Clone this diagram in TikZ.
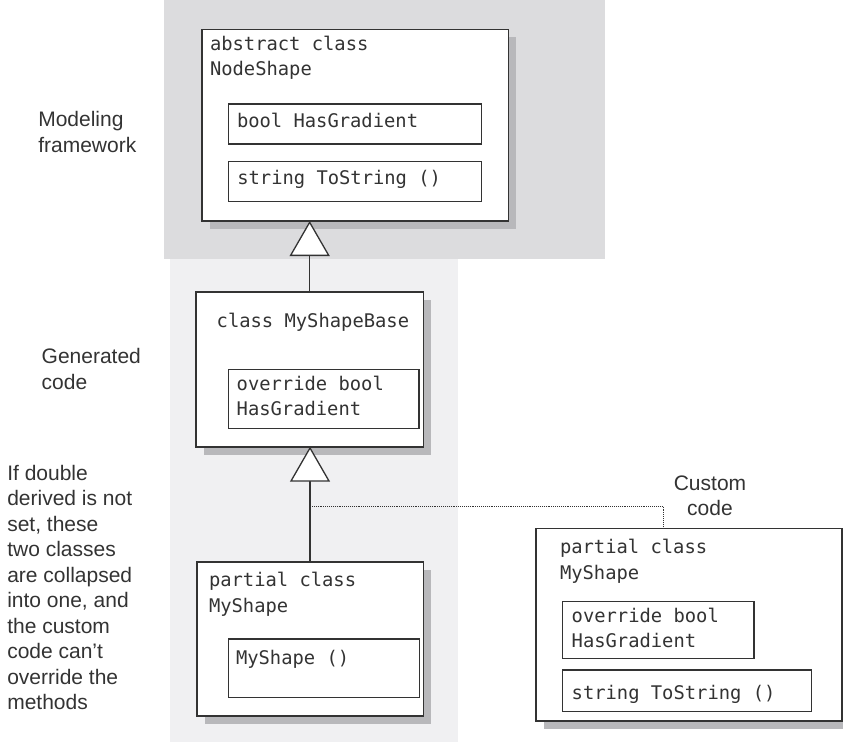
\documentclass[tikz,border=0pt]{standalone}
\usepackage{fontspec}
\setmainfont{Liberation Sans}
\setmonofont{DejaVu Sans Mono}
\usepackage{tikz}
\usetikzlibrary{arrows.meta,positioning,shadows,calc}
\definecolor{framegray}{HTML}{DCDCDE}
\definecolor{gengray}{HTML}{F0F0F2}
\definecolor{shadegray}{HTML}{B8B8BB}
\definecolor{inkgray}{HTML}{333333}
\tikzset{
    classbox/.style={draw=inkgray, line width=1.6pt, fill=white, anchor=north west,
    inner sep=0pt, outer sep=0pt,
    drop shadow={shadow xshift=8pt, shadow yshift=-8pt, fill=shadegray, opacity=1}},
    memberbox/.style={draw=inkgray, line width=1.3pt, fill=white, inner sep=0pt, outer sep=0pt},
    codetext/.style={font=\fontsize{18.8}{25.5}\selectfont\ttfamily, text=inkgray,
    align=left, inner sep=0pt, outer sep=0pt},
    layerlabel/.style={font=\fontsize{21}{25.5}\selectfont, text=inkgray, align=left,
    inner sep=0pt, outer sep=0pt, anchor=north west},
    inherits/.style={draw=inkgray, line width=1.3pt, -{Triangle[fill=white, length=35pt, width=40pt]}},
    partof/.style={draw=inkgray, line width=0.9pt, densely dotted},
}

\begin{document}
\begin{tikzpicture}[x=1pt, y=-1pt]
            \useasboundingbox (0,0) rectangle (843,742);
            % --- layer panels ---
            \fill[framegray] (164,0) rectangle (605,259);
            \fill[gengray] (170,259) rectangle (458,742);
            \node[layerlabel] (fwlbl) at (38.3,111.7) {Modeling\\framework};
            \node[layerlabel] (genlbl) at (41.7,348.3) {Generated\\code};
            \node[layerlabel] (notelbl) at (7.3,465) {If double\\derived is not\\set, these\\two classes\\are collapsed\\into one, and\\the custom\\code can’t\\override the\\methods};
            \node[layerlabel, anchor=north, align=center] (customlbl) at (710,475.7) {Custom\\code};
            % --- abstract class NodeShape ---
            \node[classbox, minimum width=306.6pt, minimum height=191.7pt] (ns) at (201.7,29.3) {};
            \node[codetext, below right=6.7pt and 8.3pt of ns.north west] (nstitle) {abstract class\\NodeShape};
            \node[memberbox, minimum width=253.4pt, minimum height=40pt, below right=74.7pt and 26.6pt of ns.north west] (hg1) {};
            \node[codetext, below right=9.3pt and 8.7pt of hg1.north west] {bool HasGradient};
            \node[memberbox, minimum width=253.4pt, minimum height=40pt, below right=132.4pt and 26.6pt of ns.north west] (ts1) {};
            \node[codetext, below right=9pt and 9pt of ts1.north west] {string ToString ()};
            % --- class MyShapeBase ---
            \node[classbox, minimum width=227.3pt, minimum height=155pt] (msb) at (196,291.7) {};
            \node[codetext, below right=21.6pt and 20.7pt of msb.north west] (msbtitle) {class MyShapeBase};
            \node[memberbox, minimum width=190.7pt, minimum height=59pt, below right=77.6pt and 32.3pt of msb.north west] (hg2) {};
            \node[codetext, below right=6.7pt and 8.4pt of hg2.north west] {override bool\\HasGradient};
            % --- partial class MyShape (generated) ---
            \node[classbox, minimum width=226.6pt, minimum height=154.3pt] (ms) at (196.7,561.7) {};
            \node[codetext, below right=10.6pt and 12.3pt of ms.north west] (mstitle) {partial class\\MyShape};
            \node[memberbox, minimum width=191pt, minimum height=58.7pt, below right=77.3pt and 31.6pt of ms.north west] (ctor) {};
            \node[codetext, below right=11pt and 7.7pt of ctor.north west] {MyShape ()};
            % --- partial class MyShape (custom) ---
            \node[classbox, minimum width=306pt, minimum height=192.4pt] (cs) at (535.7,528.3) {};
            \node[codetext, below right=11pt and 24.3pt of cs.north west] (cstitle) {partial class\\MyShape};
            \node[memberbox, minimum width=191.3pt, minimum height=56.6pt, below right=73.4pt and 27pt of cs.north west] (hg3) {};
            \node[codetext, below right=6pt and 9pt of hg3.north west] {override bool\\HasGradient};
            \node[memberbox, minimum width=249pt, minimum height=41.7pt, below right=141.7pt and 27pt of cs.north west] (ts3) {};
            \node[codetext, below right=15pt and 9pt of ts3.north west] {string ToString ()};
            % --- inheritance ---
            \draw[inherits] (msb.north) -- (msb.north |- ns.south);
            \draw[inherits] (ms.north) -- (ms.north |- msb.south);
            \coordinate (hook) at ($(ms.north)!0.48!(ms.north |- msb.south)$);
            \coordinate (cstop) at ($(cs.north west)!0.417!(cs.north east)$);
            \draw[partof] (hook) -| (cstop);
        \end{tikzpicture}
\end{document}
